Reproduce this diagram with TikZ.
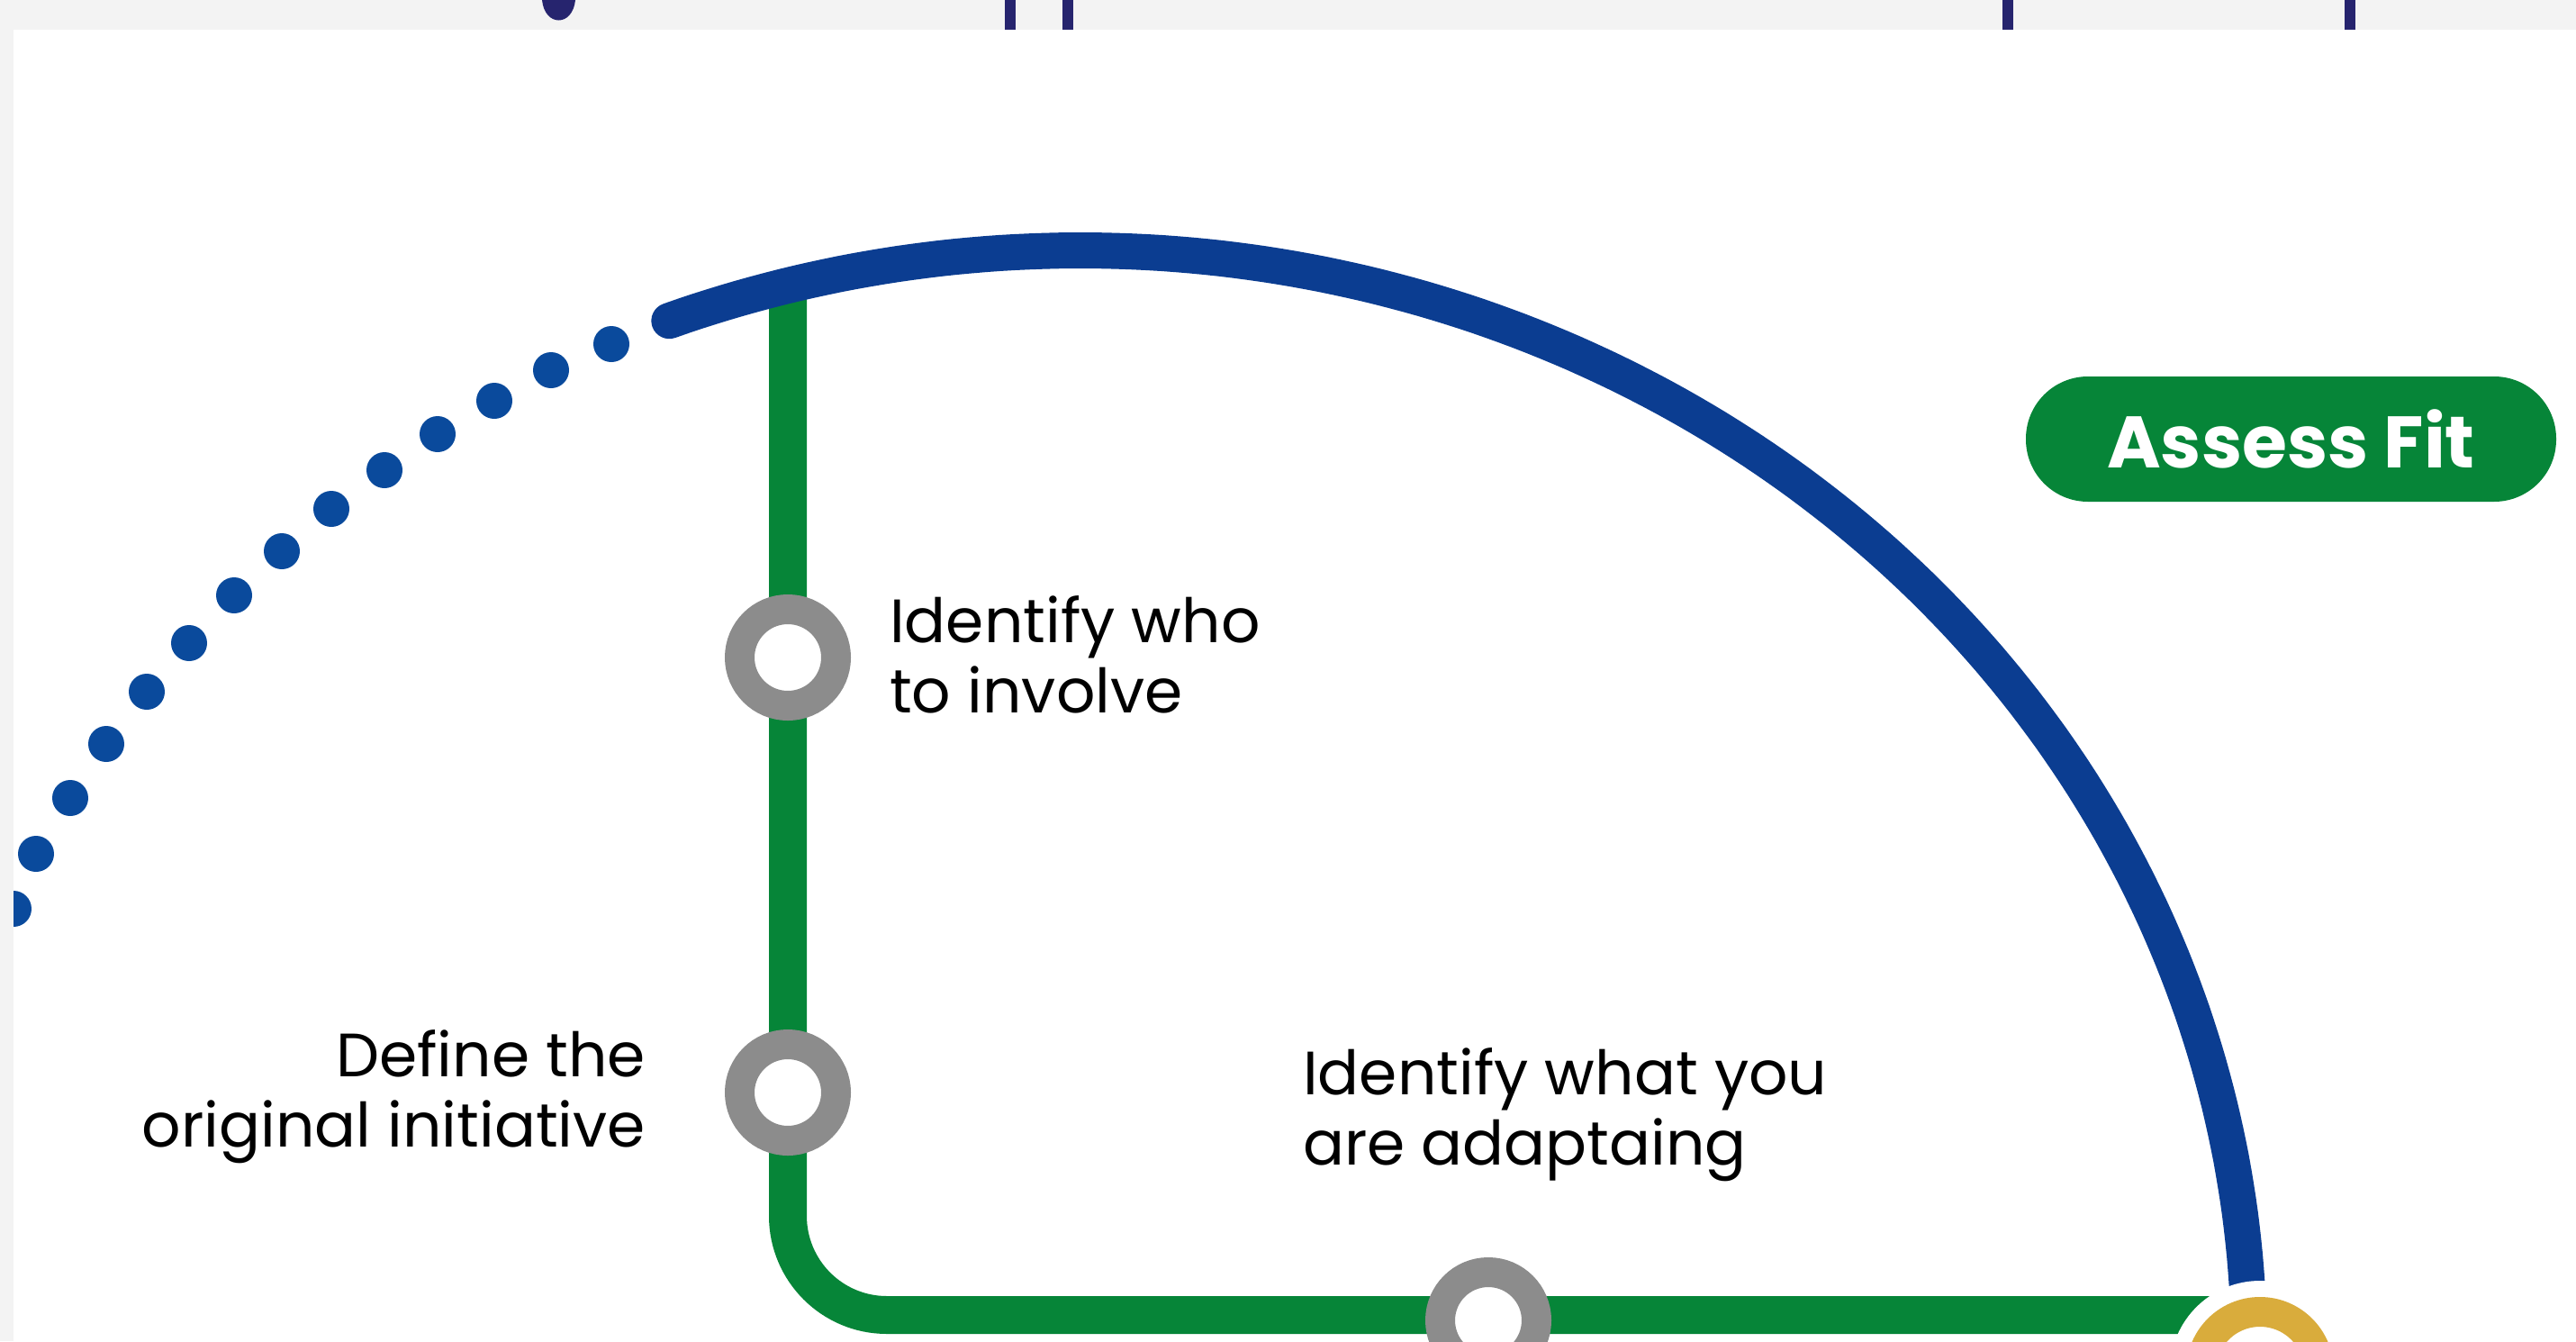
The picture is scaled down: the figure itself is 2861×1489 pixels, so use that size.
\documentclass[tikz,border=0pt]{standalone}
\usepackage{fontspec}
\setmainfont{Poppins}
\definecolor{navy}{RGB}{11,61,145}
\definecolor{dotblue}{RGB}{10,74,156}
\definecolor{mgreen}{RGB}{6,133,56}
\definecolor{mgray}{RGB}{140,140,140}
\definecolor{gold}{RGB}{217,172,60}
\definecolor{band}{RGB}{243,243,243}
\definecolor{titlenavy}{RGB}{38,36,110}
\begin{document}
\begin{tikzpicture}[x=1pt,y=-1pt,
  greenline/.style={draw=mgreen,line width=42pt,rounded corners=110pt},
  blueline/.style={draw=navy,line width=40pt,line cap=round},
  stationring/.style={circle,draw=mgray,line width=33pt,fill=white,minimum size=107pt,inner sep=0pt},
  goldstation/.style={circle,draw=gold,line width=33pt,fill=white,minimum size=131pt,inner sep=0pt},
  steptext/.style={font=\fontsize{68}{78}\selectfont,text=black,inner sep=0pt,align=left},
  fitpill/.style={fill=mgreen,rounded corners=69pt,minimum width=589pt,minimum height=139pt,inner sep=0pt,text=white,font=\bfseries\fontsize{81}{81}\selectfont},
  dotstyle/.style={fill=dotblue}
]
\useasboundingbox (0,0) rectangle (2861,1489);
\fill[white] (0,0) rectangle (2861,1489);

% green line
\coordinate (gtop) at (875,330);
\coordinate (gend) at (2480,1460);
\draw[greenline] (gtop) |- (gend);

% blue arc
\draw[blueline] plot[domain=110.6:2.8,samples=150] ({1200+1298*cos(\x)},{1500-1222*sin(\x)});

% white gap and gold station
\fill[white] (2510,1522) circle[radius=100];
\node[goldstation] (gold) at (2510,1522) {};

% gray stations
\node[stationring] (s1) at (875,730) {};
\node[stationring] (s2) at (875,1213) {};
\node[stationring] (s3) at (1653,1466) {};

% texts
\node[steptext,anchor=base west] (t1) at (988,791) {Identify who\\to involve};
\node[steptext,anchor=base east,align=right] (t2) at (717,1273) {Define the\\original initiative};
\node[steptext,anchor=base west] (t3) at (1447,1293) {Identify what you\\are adaptaing};

% pill
\node[fitpill] (fit) at (2544.5,487.5) {Assess Fit};

% dots
\foreach \p in {(679,382),(612,411),(549,445),(486,482),(427,522),(368,565),(313,612),(260,661),(210,714),(163,768),(118,826),(78,886),(40,948),(15,1009)}
  \fill[dotstyle] \p circle[radius=20];

% frame strips
\fill[band] (0,0) rectangle (2861,33);
\fill[band] (0,0) rectangle (15,1489);
\fill[titlenavy] (602,0) .. controls (605,30) and (636,30) .. (639,0) -- cycle;
\fill[titlenavy] (1116,0) rectangle (1128,33);
\fill[titlenavy] (1180,0) rectangle (1192,33);
\fill[titlenavy] (2224,0) rectangle (2236,33);
\fill[titlenavy] (2604,0) rectangle (2616,33);
\end{tikzpicture}
\end{document}
